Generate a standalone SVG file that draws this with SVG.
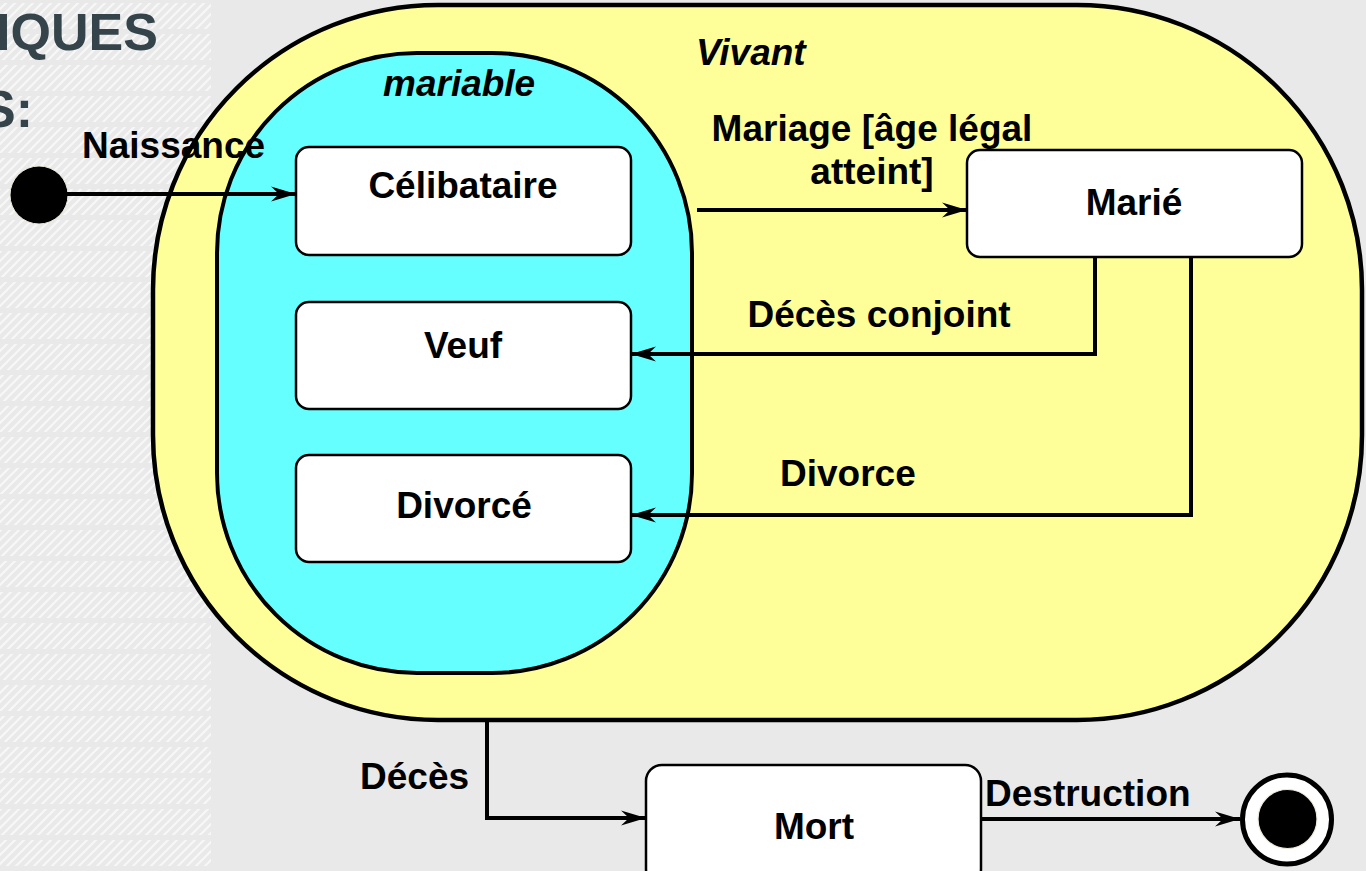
<svg xmlns="http://www.w3.org/2000/svg" width="1366" height="871" viewBox="0 0 1366 871">
  <defs>
    <pattern id="diag" patternUnits="userSpaceOnUse" width="9" height="9">
      <path d="M0,9 L9,0 M-2,2 L2,-2 M7,11 L11,7" stroke="#f7f7f7" stroke-width="2.2"/>
    </pattern>
    <pattern id="gaps" patternUnits="userSpaceOnUse" width="211" height="31" y="-2">
      <rect x="0" y="0" width="211" height="5" fill="#e9e9e9"/>
    </pattern>
    <marker id="arr" markerUnits="userSpaceOnUse" viewBox="-26 -9 27 18" refX="0" refY="0" markerWidth="27" markerHeight="18" orient="auto">
      <path d="M0,0 L-25,-7.5 L-17,0 L-25,7.5 Z" fill="#000"/>
    </marker>
  </defs>
  <style>
    .lbl { font-family: "Liberation Sans", Arial, sans-serif; font-weight: bold; font-size: 37px; fill: #000; }
    .it { font-style: italic; }
    .mid { text-anchor: middle; }
    .state { fill: #fff; stroke: #000; stroke-width: 2.5; }
    .conn { fill: none; stroke: #000; stroke-width: 4; }
    .title { font-family: "Liberation Sans", Arial, sans-serif; font-weight: bold; font-size: 52px; fill: #34444a; }
  </style>

  <!-- background -->
  <rect x="0" y="0" width="1366" height="871" fill="#e9e9e9"/>
  <rect x="0" y="0" width="211" height="871" fill="url(#diag)"/>
  <rect x="0" y="0" width="211" height="871" fill="url(#gaps)"/>
  <text class="title" x="-4" y="50">IQUES</text>
  <text class="title" x="-19" y="127">S:</text>

  <!-- composite states -->
  <g id="vivant">
    <rect x="153" y="5" width="1209" height="715" rx="285" ry="285" fill="#ffff99" stroke="#000" stroke-width="4.5"/>
    <text class="lbl it" x="696" y="65">Vivant</text>
  </g>
  <g id="mariable">
    <rect x="217" y="53" width="475" height="620" rx="200" ry="200" fill="#66ffff" stroke="#000" stroke-width="4"/>
    <text class="lbl it" x="383" y="96">mariable</text>
  </g>

  <!-- simple states -->
  <g id="celibataire">
    <rect class="state" x="296" y="147" width="335" height="108" rx="13"/>
    <text class="lbl mid" x="463" y="198">Célibataire</text>
  </g>
  <g id="veuf">
    <rect class="state" x="296" y="302" width="335" height="107" rx="13"/>
    <text class="lbl mid" x="463" y="358">Veuf</text>
  </g>
  <g id="divorce">
    <rect class="state" x="296" y="455" width="335" height="107" rx="13"/>
    <text class="lbl mid" x="464" y="518">Divorcé</text>
  </g>
  <g id="marie">
    <rect class="state" x="967" y="150" width="335" height="107" rx="13"/>
    <text class="lbl mid" x="1134" y="215">Marié</text>
  </g>
  <g id="mort">
    <rect class="state" x="646" y="765" width="335" height="120" rx="16"/>
    <text class="lbl mid" x="814" y="839">Mort</text>
  </g>

  <!-- pseudo states -->
  <g id="initial">
    <circle cx="39" cy="195" r="29" fill="#000" stroke="#eeeadc" stroke-width="1"/>
  </g>
  <g id="final">
    <circle cx="1287" cy="819.5" r="44.5" fill="#fff" stroke="#000" stroke-width="5"/>
    <circle cx="1287.5" cy="819" r="29.5" fill="#000" stroke="#eeeadc" stroke-width="1.2"/>
  </g>

  <!-- connectors -->
  <g id="connectors">
    <line x1="66" y1="194" x2="296" y2="194" class="conn" stroke-width="3" marker-end="url(#arr)"/>
    <line x1="697" y1="210" x2="967" y2="210" class="conn" stroke-width="3.5" marker-end="url(#arr)"/>
    <polyline points="1095,257 1095,354 631,354" class="conn" marker-end="url(#arr)"/>
    <polyline points="1191,257 1191,515 631,515" class="conn" marker-end="url(#arr)"/>
    <polyline points="487,720 487,818 646,818" class="conn" marker-end="url(#arr)"/>
    <line x1="981" y1="819" x2="1240" y2="819" class="conn" marker-end="url(#arr)"/>
  </g>

  <!-- connector labels -->
  <g id="labels">
    <text class="lbl" x="82" y="158">Naissance</text>
    <text class="lbl mid" x="872" y="141">Mariage [âge légal</text>
    <text class="lbl mid" x="872" y="184">atteint]</text>
    <text class="lbl mid" x="879" y="327">Décès conjoint</text>
    <text class="lbl" x="780" y="486">Divorce</text>
    <text class="lbl" x="360" y="789">Décès</text>
    <text class="lbl" x="985" y="806">Destruction</text>
  </g>
</svg>
